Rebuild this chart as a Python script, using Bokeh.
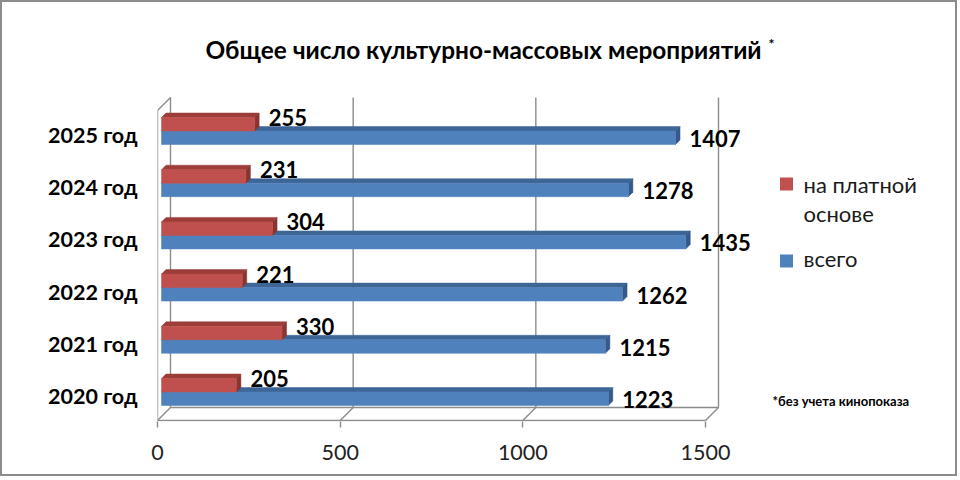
from bokeh.plotting import figure
from bokeh.models import Range1d, FixedTicker
from bokeh.core.properties import value
from bokeh.embed import file_html
from bokeh.resources import INLINE

# ---- data ----
years = ["2020 год", "2021 год", "2022 год", "2023 год", "2024 год", "2025 год"]
paid = [205, 330, 221, 304, 231, 255]
total = [1223, 1215, 1262, 1435, 1278, 1407]
x_ticks = [0, 500, 1000, 1500]
title_text = "Общее число культурно-массовых мероприятий"
legend_paid = ["на платной", "основе"]
legend_total = "всего"
footnote = "*без учета кинопоказа"

# ---- layout helpers (page pixel geometry) ----
W, H = 957, 476
OX, OY = 2, 2            # page offset of canvas (inside border)
S = 548 / 1500           # px per unit (value axis)
U = 52.2                 # px per category
X0P = 157                # page x of value 0 on front plane
Y0P = 395.5              # page y of category 0 label
FBP = 421                # page y of frame bottom


def X(px):
    return (px - X0P) / S


def Y(py):
    return (Y0P - py) / U


def dxv(d):
    return d / S


def dyv(d):
    return d / U


FONT = value("Lato")
GRAY = "#8c8c8c"

p = figure(width=W, height=H, output_backend="svg", toolbar_location=None,
           x_range=Range1d(X(X0P), X(OX + W)), y_range=Range1d(Y(FBP), Y(OY)),
           min_border_left=X0P - OX, min_border_right=0, min_border_top=0,
           min_border_bottom=OY + H - FBP)
p.styles = {"border": "2px solid #8c8c8c"}
p.outline_line_color = None
p.xgrid.visible = False
p.ygrid.visible = False
p.background_fill_color = "white"
p.border_fill_color = "white"

# ---- walls / floor ----
D = 13
xs, ys = [], []
for v in x_ticks:
    xs.append([v + dxv(D), v + dxv(D)]); ys.append([Y(420 - D), Y(97)])
    xs.append([v, v + dxv(D)]); ys.append([Y(420), Y(420 - D)])
xs.append([0, 0]); ys.append([Y(420), Y(110)])
xs.append([0, dxv(D)]); ys.append([Y(110), Y(97)])
xs.append([0, x_ticks[-1]]); ys.append([Y(420), Y(420)])
xs.append([dxv(D), x_ticks[-1] + dxv(D)]); ys.append([Y(420 - D), Y(420 - D)])
p.multi_line(xs=xs, ys=ys, line_color=GRAY, line_width=1.4)

# ---- 3D bars ----
dz0 = 4      # front face depth offset px
dd = 4.5     # bar depth px
h = 13.5     # bar face height px


def draw_bars(vals, low, front, topc, sidec):
    left, right, bottom, top = [], [], [], []
    txs, tys, sxs, sys_ = [], [], [], []
    for c, v in enumerate(vals):
        x0 = dxv(dz0)
        x1 = x0 + v
        yb = c + dyv(dz0) + (-dyv(h) if low else 0)
        yt = yb + dyv(h)
        left.append(x0); right.append(x1); bottom.append(yb); top.append(yt)
        txs.append([x0, x1, x1 + dxv(dd), x0 + dxv(dd)])
        tys.append([yt, yt, yt + dyv(dd), yt + dyv(dd)])
        sxs.append([x1, x1 + dxv(dd), x1 + dxv(dd), x1])
        sys_.append([yb, yb + dyv(dd), yt + dyv(dd), yt])
    p.patches(xs=txs, ys=tys, fill_color=topc, line_color=topc, line_width=0.5)
    p.patches(xs=sxs, ys=sys_, fill_color=sidec, line_color=sidec, line_width=0.5)
    p.quad(left=left, right=right, bottom=bottom, top=top, fill_color=front,
           line_color=front, line_width=0.5)


draw_bars(total, True, "#4F81BD", "#3D6697", "#34598A")
draw_bars(paid, False, "#C0504D", "#9C3D3A", "#8A3432")

# ---- data labels ----
lab_x, lab_y, lab_t = [], [], []
for c, v in enumerate(total):
    lab_x.append(dxv(dz0) + v + dxv(14)); lab_y.append(c + dyv(dz0) - dyv(7.5)); lab_t.append(str(v))
for c, v in enumerate(paid):
    lab_x.append(dxv(dz0) + v + dxv(14)); lab_y.append(c + dyv(dz0) + dyv(13.5)); lab_t.append(str(v))
p.text(x=lab_x, y=lab_y, text=lab_t, text_font=FONT, text_font_style="bold",
       text_font_size=value("22px"), text_color="black", text_align="left",
       text_baseline="middle")

# ---- title ----
p.text(x=[X(483)], y=[Y(48.5)], text=[title_text], text_font=FONT, text_font_style="bold",
       text_font_size=value("24.4px"), text_color="black", text_align="center",
       text_baseline="middle")
p.text(x=[X(768)], y=[Y(43)], text=["*"], text_font=FONT, text_font_style="bold",
       text_font_size=value("14px"), text_color="black", text_align="left",
       text_baseline="middle")

# ---- legend ----
p.rect(x=[X(786), X(786)], y=[Y(183.5), Y(260.5)], width=13, height=13,
       width_units="screen", height_units="screen",
       fill_color=["#C0504D", "#4F81BD"], line_color=None)
p.text(x=[X(803), X(803), X(803)], y=[Y(184), Y(213), Y(258)],
       text=[legend_paid[0], legend_paid[1], legend_total], text_font=FONT,
       text_font_size=value("22px"), text_color="#1a1a1a", text_align="left",
       text_baseline="middle")

# ---- footnote ----
p.text(x=[X(772)], y=[Y(400)], text=[footnote], text_font=FONT, text_font_style="bold",
       text_font_size=value("13px"), text_color="black", text_align="left",
       text_baseline="middle")

# ---- axes ----
p.xaxis.ticker = FixedTicker(ticks=x_ticks)
p.xaxis.axis_line_color = None
p.xaxis.major_tick_out = 6
p.xaxis.major_tick_in = 0
p.xaxis.major_tick_line_color = GRAY
p.xaxis.major_tick_line_width = 1.4
p.xaxis.minor_tick_line_color = None
p.xaxis.major_label_text_font = "Lato"
p.xaxis.major_label_text_font_size = "21.5px"
p.xaxis.major_label_text_color = "#222222"
p.xaxis.major_label_standoff = 17

p.yaxis.ticker = FixedTicker(ticks=list(range(len(years))))
p.yaxis.major_label_overrides = {i: years[i] for i in range(len(years))}
p.yaxis.axis_line_color = None
p.yaxis.major_tick_line_color = None
p.yaxis.minor_tick_line_color = None
p.yaxis.major_label_text_font = "Lato"
p.yaxis.major_label_text_font_style = "bold"
p.yaxis.major_label_text_font_size = "21.5px"
p.yaxis.major_label_text_color = "black"
p.yaxis.major_label_standoff = 14

open("out.html", "w").write(file_html(p, INLINE))
